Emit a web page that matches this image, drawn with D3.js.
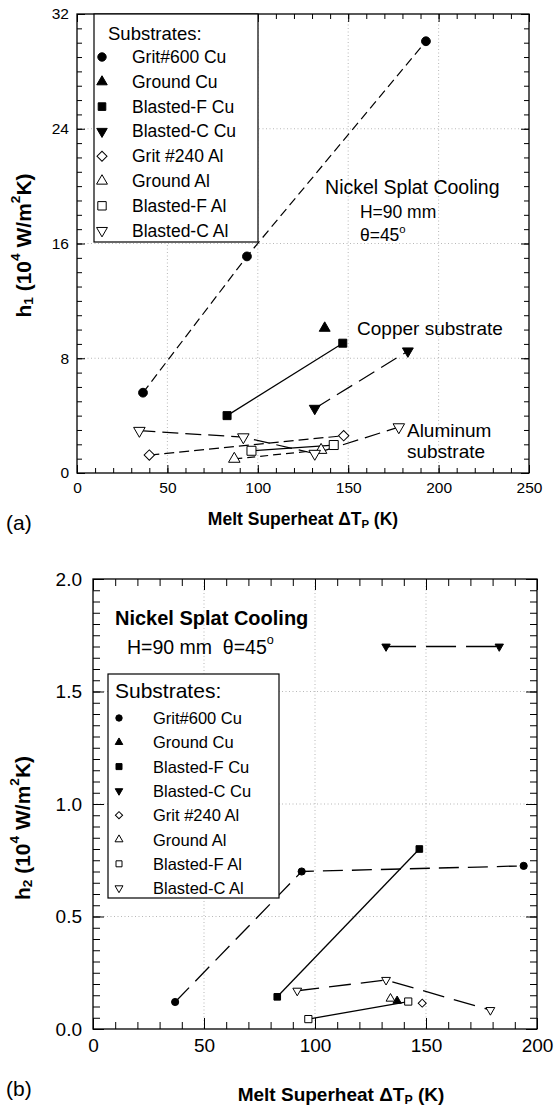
<!DOCTYPE html>
<html><head><meta charset="utf-8">
<script src="https://cdn.jsdelivr.net/npm/d3@7"></script>
<style>
body{margin:0;background:#fff}
svg{display:block}
text{font-family:"Liberation Sans",Arial,Helvetica,sans-serif;fill:#000}
</style>
</head><body>
<svg id="c" width="555" height="1110"></svg>
<script>
// ---------- shared series info ----------
const seriesNames = ["Grit#600 Cu","Ground Cu","Blasted-F Cu","Blasted-C Cu","Grit #240 Al","Ground Al","Blasted-F Al","Blasted-C Al"];
const seriesSymbols = ["circle","triangle","square","triangleDown","diamond","triangle","square","triangleDown"];
const seriesFilled = [true,true,true,true,false,false,false,false];

// ---------- panel (a): h1 ----------
const xTicksA = [0,50,100,150,200,250];
const yTicksA = [0,8,16,24,32];
const h1Grit600Cu  = [[36.5,5.6],[94,15.1],[193,30.1]];
const h1GroundCu   = [[137,10.1]];
const h1BlastedFCu = [[83,4.0],[147,9.05]];
const h1BlastedCCu = [[131.5,4.5],[183,8.5]];
const h1Grit240Al  = [[40,1.25],[147.5,2.6]];
const h1GroundAl   = [[87,0.98],[135,1.6]];
const h1BlastedFAl = [[96.5,1.55],[142,1.95]];
const h1BlastedCAl = [[34.5,2.95],[92,2.5],[131.5,1.35],[178,3.2]];

// ---------- panel (b): h2 ----------
const xTicksB = [0,50,100,150,200];
const yTicksB = [0,0.5,1.0,1.5,2.0];
const h2Grit600Cu  = [[37,0.12],[94,0.70],[194,0.725]];
const h2GroundCu   = [[137,0.125]];
const h2BlastedFCu = [[83,0.143],[147,0.80]];
const h2BlastedCCu = [[132,1.70],[183,1.70]];
const h2Grit240Al  = [[148.3,0.115]];
const h2GroundAl   = [[134,0.135]];
const h2BlastedFAl = [[97,0.044],[142,0.122]];
const h2BlastedCAl = [[92,0.17],[132,0.218],[179,0.084]];

const svg = d3.select("#c");
svg.append("rect").attr("width",555).attr("height",1110).attr("fill","#fff");

function symbolPath(type, r) {
  const g = d3.symbol();
  if (type === "circle") return g.type(d3.symbolCircle).size(Math.PI*r*r)();
  if (type === "square") return g.type(d3.symbolSquare).size(4*r*r)();
  if (type === "diamond") return g.type(d3.symbolSquare).size(2*r*r)();
  return g.type(d3.symbolTriangle).size(r*r*1.9)();
}
function drawSymbol(g, type, filled, cx, cy, r) {
  let rot = 0;
  if (type === "diamond") rot = 45;
  if (type === "triangleDown") rot = 180;
  g.append("path").attr("d", symbolPath(type, r))
    .attr("transform", `translate(${cx},${cy}) rotate(${rot})`)
    .attr("fill", filled ? "#000" : "#fff")
    .attr("stroke", "#000").attr("stroke-width", 1);
}

function panel(cfg) {
  const g = svg.append("g");
  const x = d3.scaleLinear().domain(cfg.xDomain).range([cfg.left, cfg.right]);
  const y = d3.scaleLinear().domain(cfg.yDomain).range([cfg.bottom, cfg.top]);

  // grid
  const gx = cfg.xTicks.filter(v => v > cfg.xDomain[0] && v < cfg.xDomain[1]);
  const gy = cfg.yTicks.filter(v => v > cfg.yDomain[0] && v < cfg.yDomain[1]);
  g.selectAll(".gx").data(gx).join("line")
    .attr("x1", d => x(d)).attr("x2", d => x(d)).attr("y1", cfg.top).attr("y2", cfg.bottom)
    .attr("stroke", "#999").attr("stroke-width", 0.7).attr("stroke-dasharray", "1,2.5");
  g.selectAll(".gy").data(gy).join("line")
    .attr("y1", d => y(d)).attr("y2", d => y(d)).attr("x1", cfg.left).attr("x2", cfg.right)
    .attr("stroke", "#999").attr("stroke-width", 0.7).attr("stroke-dasharray", "1,2.5");

  const xMinor = d3.range(cfg.xDomain[0], cfg.xDomain[1] + 1e-9, cfg.xMinor);
  const yMinor = d3.range(cfg.yDomain[0], cfg.yDomain[1] + 1e-9, cfg.yMinor);
  const mn = cfg.minorLen, mj = cfg.majorLen;

  function styleAxis(sel) {
    sel.select(".domain").remove();
    sel.selectAll(".tick line").attr("stroke", "#000").attr("stroke-width", 1);
  }
  // bottom
  g.append("g").attr("transform", `translate(0,${cfg.bottom})`)
    .call(d3.axisBottom(x).tickValues(xMinor).tickSize(-mn).tickFormat("")).call(styleAxis);
  const bx = g.append("g").attr("transform", `translate(0,${cfg.bottom})`)
    .call(d3.axisBottom(x).tickValues(cfg.xTicks).tickSize(-mj).tickPadding(cfg.xPad).tickFormat(cfg.xFmt)).call(styleAxis);
  bx.selectAll("text").attr("font-size", cfg.tickFont).attr("font-family", '"Liberation Sans",Arial,sans-serif');
  // top
  g.append("g").attr("transform", `translate(0,${cfg.top})`)
    .call(d3.axisTop(x).tickValues(xMinor).tickSize(-mn).tickFormat("")).call(styleAxis);
  g.append("g").attr("transform", `translate(0,${cfg.top})`)
    .call(d3.axisTop(x).tickValues(cfg.xTicks).tickSize(-mj).tickFormat("")).call(styleAxis);
  // left
  g.append("g").attr("transform", `translate(${cfg.left},0)`)
    .call(d3.axisLeft(y).tickValues(yMinor).tickSize(-mn).tickFormat("")).call(styleAxis);
  const ly = g.append("g").attr("transform", `translate(${cfg.left},0)`)
    .call(d3.axisLeft(y).tickValues(cfg.yTicks).tickSize(-mj).tickPadding(cfg.yPad).tickFormat(cfg.yFmt)).call(styleAxis);
  ly.selectAll("text").attr("font-size", cfg.tickFont).attr("font-family", '"Liberation Sans",Arial,sans-serif');
  // right
  g.append("g").attr("transform", `translate(${cfg.right},0)`)
    .call(d3.axisRight(y).tickValues(yMinor).tickSize(-mn).tickFormat("")).call(styleAxis);
  g.append("g").attr("transform", `translate(${cfg.right},0)`)
    .call(d3.axisRight(y).tickValues(cfg.yTicks).tickSize(-mj).tickFormat("")).call(styleAxis);

  // frame
  g.append("rect").attr("x", cfg.left).attr("y", cfg.top)
    .attr("width", cfg.right - cfg.left).attr("height", cfg.bottom - cfg.top)
    .attr("fill", "none").attr("stroke", "#000").attr("stroke-width", 1.3);

  // lines ("" = solid, null = no line)
  const line = d3.line().x(d => x(d[0])).y(d => y(d[1]));
  cfg.series.forEach((s, i) => {
    if (s.length > 1 && cfg.dash[i] !== null) {
      const p = g.append("path").attr("d", line(s)).attr("fill", "none")
        .attr("stroke", "#000").attr("stroke-width", cfg.lineW);
      if (cfg.dash[i]) p.attr("stroke-dasharray", cfg.dash[i]);
    }
  });
  // markers
  cfg.series.forEach((s, i) => {
    s.forEach(d => drawSymbol(g, seriesSymbols[i], seriesFilled[i], x(d[0]), y(d[1]), cfg.markR[i]));
  });

  // legend
  const L = cfg.legend;
  g.append("rect").attr("x", L.x).attr("y", L.y).attr("width", L.w).attr("height", L.h)
    .attr("fill", "#fff").attr("stroke", "#000").attr("stroke-width", 1.2);
  g.append("text").attr("x", L.titleX).attr("y", L.titleY).attr("dominant-baseline", "central")
    .attr("font-size", L.titleFont).text("Substrates:");
  seriesNames.forEach((n, i) => {
    const yy = L.rowY + i * L.rowH;
    drawSymbol(g, seriesSymbols[i], seriesFilled[i], L.symX, yy, L.symR[i]);
    g.append("text").attr("x", L.textX).attr("y", yy).attr("dominant-baseline", "central")
      .attr("font-size", L.font).text(n);
  });

  // annotations
  cfg.notes.forEach(a => {
    const t = g.append("text").attr("x", x(a.x)).attr("y", y(a.y)).attr("dominant-baseline", "central")
      .attr("font-size", a.size).attr("font-weight", a.bold ? "bold" : "normal");
    a.parts.forEach(p => {
      const ts = t.append("tspan").text(p.t);
      if (p.sup) ts.attr("font-size", a.size * 0.65).attr("dy", -a.size * 0.35);
    });
  });

  // y label
  const yl = g.append("text")
    .attr("transform", `translate(${cfg.yLabelX},${(cfg.top + cfg.bottom) / 2 + cfg.yLabelDY}) rotate(-90)`)
    .attr("text-anchor", "middle").attr("dominant-baseline", "central")
    .attr("font-size", cfg.yLabelFont).attr("font-weight", "bold");
  const f = cfg.yLabelFont;
  yl.append("tspan").text("h");
  yl.append("tspan").text(cfg.yLabelSub).attr("font-size", f * 0.65).attr("dy", f * 0.25);
  yl.append("tspan").text(" (10").attr("dy", -f * 0.25);
  yl.append("tspan").text("4").attr("font-size", f * 0.65).attr("dy", -f * 0.4);
  yl.append("tspan").text(" W/m").attr("dy", f * 0.4);
  yl.append("tspan").text("2").attr("font-size", f * 0.65).attr("dy", -f * 0.4);
  yl.append("tspan").text("K)").attr("dy", f * 0.4);

  // x label
  const xf = cfg.xLabelFont;
  const xl = g.append("text").attr("x", cfg.xLabelX).attr("y", cfg.xLabelY)
    .attr("text-anchor", "middle").attr("dominant-baseline", "central")
    .attr("font-size", xf).attr("font-weight", "bold");
  xl.append("tspan").text("Melt Superheat \u0394T");
  xl.append("tspan").text("P").attr("font-size", xf * 0.65).attr("dy", xf * 0.3);
  xl.append("tspan").text(" (K)").attr("dy", -xf * 0.3);

  // panel tag
  g.append("text").attr("x", 6).attr("y", cfg.tagY).attr("dominant-baseline", "central")
    .attr("font-family", '"Liberation Serif","Times New Roman",serif').attr("font-size", 21).text(cfg.tag);
}

panel({
  xDomain: [0, 250], yDomain: [0, 32],
  left: 77, right: 529, top: 14, bottom: 473,
  xTicks: xTicksA, yTicks: yTicksA, xMinor: 10, yMinor: 1,
  xFmt: d3.format("d"), yFmt: d3.format("d"),
  minorLen: 5, majorLen: 8, xPad: 9, yPad: 8, tickFont: 15.5,
  series: [h1Grit600Cu, h1GroundCu, h1BlastedFCu, h1BlastedCCu, h1Grit240Al, h1GroundAl, h1BlastedFAl, h1BlastedCAl],
  dash: ["9,5", null, "", "18,8", "10,5", "8,5", "", "16,7"],
  lineW: 1.2,
  markR: [4.4, 5.2, 4, 5.2, 5.2, 5.5, 4.5, 5.5],
  legend: { x: 94, y: 14, w: 164, h: 228, titleX: 108, titleY: 33, titleFont: 18.5,
            rowY: 57, rowH: 24.8, symX: 102, textX: 132, font: 17.5,
            symR: [4.2, 5, 3.8, 5, 5, 5.2, 4.2, 5.2] },
  notes: [
    { x: 137.2, y: 19.94, size: 19.5, parts: [{ t: "Nickel Splat Cooling" }] },
    { x: 156.5, y: 18.2, size: 17.5, parts: [{ t: "H=90 mm" }] },
    { x: 156.5, y: 16.6, size: 17.5, parts: [{ t: "\u03B8=45" }, { t: "o", sup: true }] },
    { x: 154.9, y: 10.1, size: 19, parts: [{ t: "Copper substrate" }] },
    { x: 182.5, y: 3.0, size: 19, parts: [{ t: "Aluminum" }] },
    { x: 182.5, y: 1.53, size: 19, parts: [{ t: "substrate" }] }
  ],
  yLabelX: 23, yLabelDY: 2, yLabelFont: 21, yLabelSub: "1",
  xLabelX: 303, xLabelY: 519, xLabelFont: 17.5,
  tag: "(a)", tagY: 522
});

panel({
  xDomain: [0, 200], yDomain: [0, 2],
  left: 93, right: 537, top: 579, bottom: 1029,
  xTicks: xTicksB, yTicks: yTicksB, xMinor: 10, yMinor: 0.05,
  xFmt: d3.format("d"), yFmt: d3.format(".1f"),
  minorLen: 7, majorLen: 11, xPad: 10, yPad: 11, tickFont: 19,
  series: [h2Grit600Cu, h2GroundCu, h2BlastedFCu, h2BlastedCCu, h2Grit240Al, h2GroundAl, h2BlastedFAl, h2BlastedCAl],
  dash: ["20,9", null, "", "30,10", null, null, "", "22,10"],
  lineW: 1.3,
  markR: [3.6, 4, 3.3, 4, 4, 4.2, 3.6, 4.2],
  legend: { x: 108, y: 674, w: 171, h: 224, titleX: 115, titleY: 690, titleFont: 21,
            rowY: 718, rowH: 24.3, symX: 119, textX: 153, font: 16.5,
            symR: [3.2, 3.6, 3, 3.6, 3.6, 3.8, 3, 3.8] },
  notes: [
    { x: 9.9, y: 1.827, size: 20, bold: true, parts: [{ t: "Nickel Splat Cooling" }] },
    { x: 15.3, y: 1.698, size: 19.5, parts: [{ t: "H=90 mm\u00A0\u00A0\u03B8=45" }, { t: "o", sup: true }] }
  ],
  yLabelX: 22, yLabelDY: 24, yLabelFont: 21, yLabelSub: "2",
  xLabelX: 341, xLabelY: 1094, xLabelFont: 19,
  tag: "(b)", tagY: 1088
});
</script>
</body></html>
